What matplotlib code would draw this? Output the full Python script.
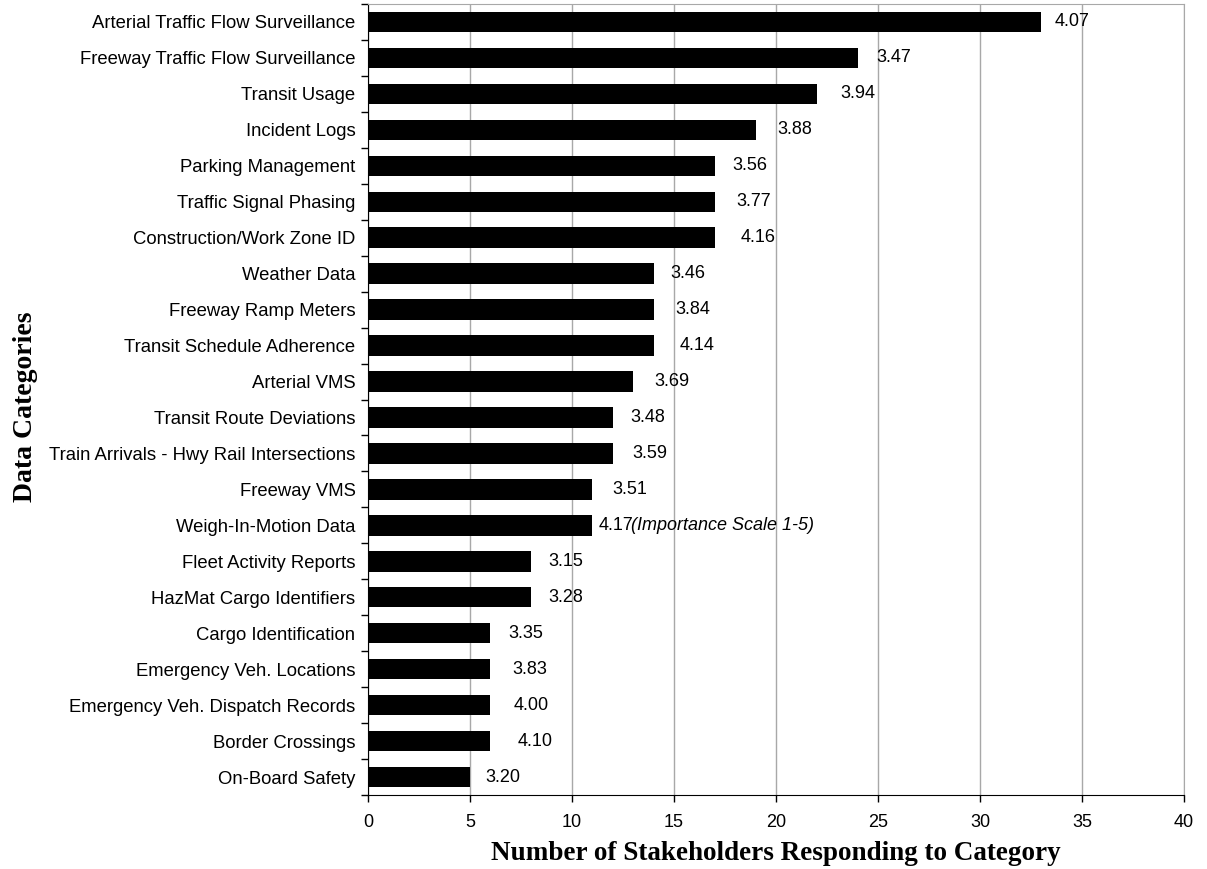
import matplotlib
matplotlib.use("Agg")
import matplotlib.pyplot as plt
import numpy as np

# ------------------------------
# Data (top to bottom as drawn)
# ------------------------------
categories = [
    "Arterial Traffic Flow Surveillance",
    "Freeway Traffic Flow Surveillance",
    "Transit Usage",
    "Incident Logs",
    "Parking Management",
    "Traffic Signal Phasing",
    "Construction/Work Zone ID",
    "Weather Data",
    "Freeway Ramp Meters",
    "Transit Schedule Adherence",
    "Arterial VMS",
    "Transit Route Deviations",
    "Train Arrivals - Hwy Rail Intersections",
    "Freeway VMS",
    "Weigh-In-Motion Data",
    "Fleet Activity Reports",
    "HazMat Cargo Identifiers",
    "Cargo Identification",
    "Emergency Veh. Locations",
    "Emergency Veh. Dispatch Records",
    "Border Crossings",
    "On-Board Safety",
]
stakeholders = [33, 24, 22, 19, 17, 17, 17, 14, 14, 14, 13, 12, 12, 11, 11,
                8, 8, 6, 6, 6, 6, 5]
importance = ["4.07", "3.47", "3.94", "3.88", "3.56", "3.77", "4.16", "3.46",
              "3.84", "4.14", "3.69", "3.48", "3.59", "3.51", "4.17", "3.15",
              "3.28", "3.35", "3.83", "4.00", "4.10", "3.20"]
note_row = 14
note_text = "(Importance Scale 1-5)"

# label gaps after bar end (pixels), as placed in the original
label_gap = [13, 19, 24, 22, 18, 22, 26, 17, 22, 26, 21, 18, 20, 20, 6,
             17, 17, 18, 22, 23, 27, 15]

sans = "Liberation Sans"
serif = "Liberation Serif"

# ------------------------------
# Plotting
# ------------------------------
fig = plt.figure(figsize=(12.07, 8.69), dpi=100)
ax = fig.add_axes([368 / 1207, 1 - 795 / 869, 816 / 1207, 791 / 869])

y = np.arange(len(categories))
ax.barh(y, stakeholders, height=0.57, color="black", zorder=3)

ax.set_xlim(0, 40)
ax.set_ylim(len(categories) - 0.5, -0.5)
ax.set_xticks(np.arange(0, 41, 5))
ax.set_yticks(y)
ax.set_yticklabels(categories, fontsize=13.3, family=sans)
ax.set_yticks(np.arange(-0.5, len(categories), 1), minor=True)
ax.tick_params(axis="y", which="major", length=0, pad=9)
ax.tick_params(axis="y", which="minor", length=5, width=1, color="black")
ax.tick_params(axis="x", length=5, width=1, pad=9, labelsize=13)
for lab in ax.get_xticklabels():
    lab.set_family(sans)

ax.grid(axis="x", color="#a8a8a8", linewidth=1, zorder=0)
ax.spines["left"].set_color("black")
ax.spines["bottom"].set_color("black")
ax.spines["top"].set_color("#a8a8a8")
ax.spines["right"].set_color("#a8a8a8")

for i, (v, lab, gap) in enumerate(zip(stakeholders, importance, label_gap)):
    ax.annotate(lab, (v, i), xytext=(gap, 0), textcoords="offset pixels",
                va="center", ha="left", fontsize=13, family=sans)

ax.annotate(note_text, (stakeholders[note_row], note_row), xytext=(39, 0),
            textcoords="offset pixels", va="center", ha="left",
            fontsize=13, family=sans, style="italic")

ax.set_xlabel("Number of Stakeholders Responding to Category",
              fontsize=19.5, family=serif, fontweight="bold")
ax.set_ylabel("Data Categories", fontsize=20, family=serif,
              fontweight="bold")
ax.xaxis.set_label_coords(0.5, -0.058)
ax.yaxis.set_label_coords(-0.405, 0.491)

fig.savefig("out.png", dpi=100)
